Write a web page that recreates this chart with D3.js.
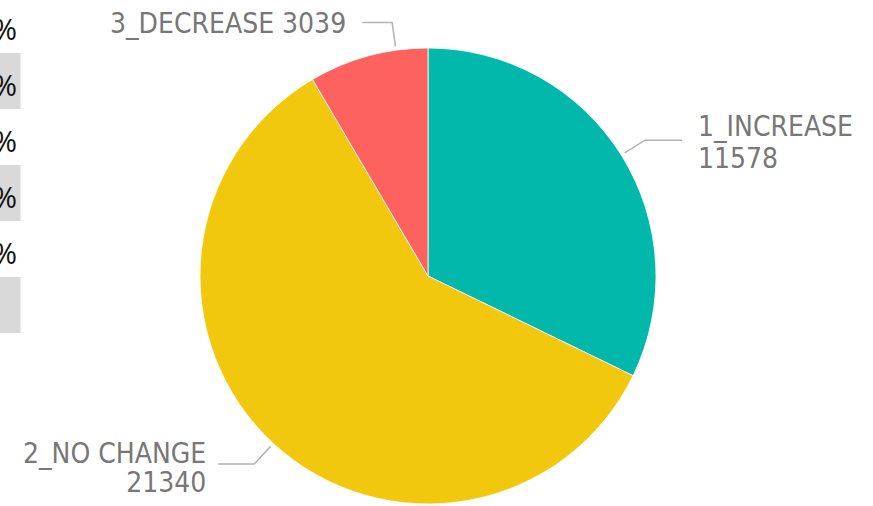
<!DOCTYPE html>
<html>
<head>
<meta charset="utf-8">
<script src="https://cdn.jsdelivr.net/npm/d3@7"></script>
<style>
  body { margin: 0; background: #fff; }
  svg { display: block; }
</style>
</head>
<body>
<svg id="chart"></svg>
<script>
const width = 873;
const height = 506;

// data
const categories = ["1_INCREASE", "2_NO CHANGE", "3_DECREASE"];
const counts = [11578, 21340, 3039];
const sliceColors = ["#01B8AA", "#F2C80F", "#FD625E"];

// the table on the left is cut off, only the last character shows
const tableCells = ["%", "%", "%", "%", "%", ""];

const svg = d3.select("#chart")
  .attr("width", width)
  .attr("height", height);

// Left table fragment
const rowY = d3.scaleBand()
  .domain(d3.range(tableCells.length))
  .range([-3, 333]);

const rows = svg.append("g").selectAll("g")
  .data(tableCells)
  .enter()
  .append("g")
  .attr("transform", (d, i) => `translate(0, ${rowY(i)})`);

rows.append("rect")
  .attr("width", 20.5)
  .attr("height", rowY.bandwidth())
  .attr("fill", (d, i) => i % 2 === 1 ? "#d9d9d9" : "none");

rows.append("text")
  .attr("x", 17)
  .attr("y", rowY.bandwidth() / 2 + 5)
  .attr("dy", "0.35em")
  .attr("text-anchor", "end")
  .style("font-family", "'Open Sans', 'Noto Sans', sans-serif")
  .style("font-size", "29px")
  .style("fill", "#111")
  .text(d => d);

// Pie
const cx = 428, cy = 276, radius = 228;
const data = categories.map((c, i) => ({ label: c, value: counts[i], color: sliceColors[i] }));

const pie = d3.pie().sort(null).value(d => d.value);
const arc = d3.arc().innerRadius(0).outerRadius(radius);

const g = svg.append("g").attr("transform", `translate(${cx}, ${cy})`);
const arcs = pie(data);

g.selectAll("path")
  .data(arcs)
  .enter()
  .append("path")
  .attr("d", arc)
  .attr("fill", d => d.data.color)
  .attr("stroke", "#fff")
  .attr("stroke-width", 0.8);

// Labels with leader lines
const labelOpts = {
  "1_INCREASE":  { shift: 0, tail: 37, gap: 16, lines: 2, lh: 32, up: 4 },
  "2_NO CHANGE": { shift: 0, tail: -36, gap: 12, lines: 2, lh: 29, up: 1 },
  "3_DECREASE":  { shift: 0.125, tail: -30, gap: 16, lines: 1, lh: 0, up: 0 }
};

const polar = (a, r) => [Math.sin(a) * r, -Math.cos(a) * r];

arcs.forEach(d => {
  const o = labelOpts[d.data.label];
  const a = (d.startAngle + d.endAngle) / 2 + o.shift;
  const p0 = polar(a, radius + 4);
  const p1 = polar(a, radius + 28);
  const p2 = [p1[0] + o.tail, p1[1]];

  g.append("polyline")
    .attr("points", [p0, p1, p2].map(p => p.join(",")).join(" "))
    .attr("fill", "none")
    .attr("stroke", "#b3b3b3")
    .attr("stroke-width", 1.5);

  const right = o.tail > 0;
  const tx = p2[0] + (right ? o.gap : -o.gap);
  const t = g.append("text")
    .attr("text-anchor", right ? "start" : "end")
    .style("font-family", "'DejaVu Sans Condensed', 'DejaVu Sans', sans-serif")
    .style("font-stretch", "condensed")
    .style("font-size", "28px")
    .style("fill", "#777");

  if (o.lines === 2) {
    t.append("tspan").attr("x", tx).attr("y", p2[1] - o.up).text(d.data.label);
    t.append("tspan").attr("x", tx).attr("y", p2[1] - o.up + o.lh).text(d.data.value);
  } else {
    t.append("tspan").attr("x", tx).attr("y", p2[1]).attr("dy", "0.36em")
      .text(`${d.data.label} ${d.data.value}`);
  }
});
</script>
</body>
</html>
